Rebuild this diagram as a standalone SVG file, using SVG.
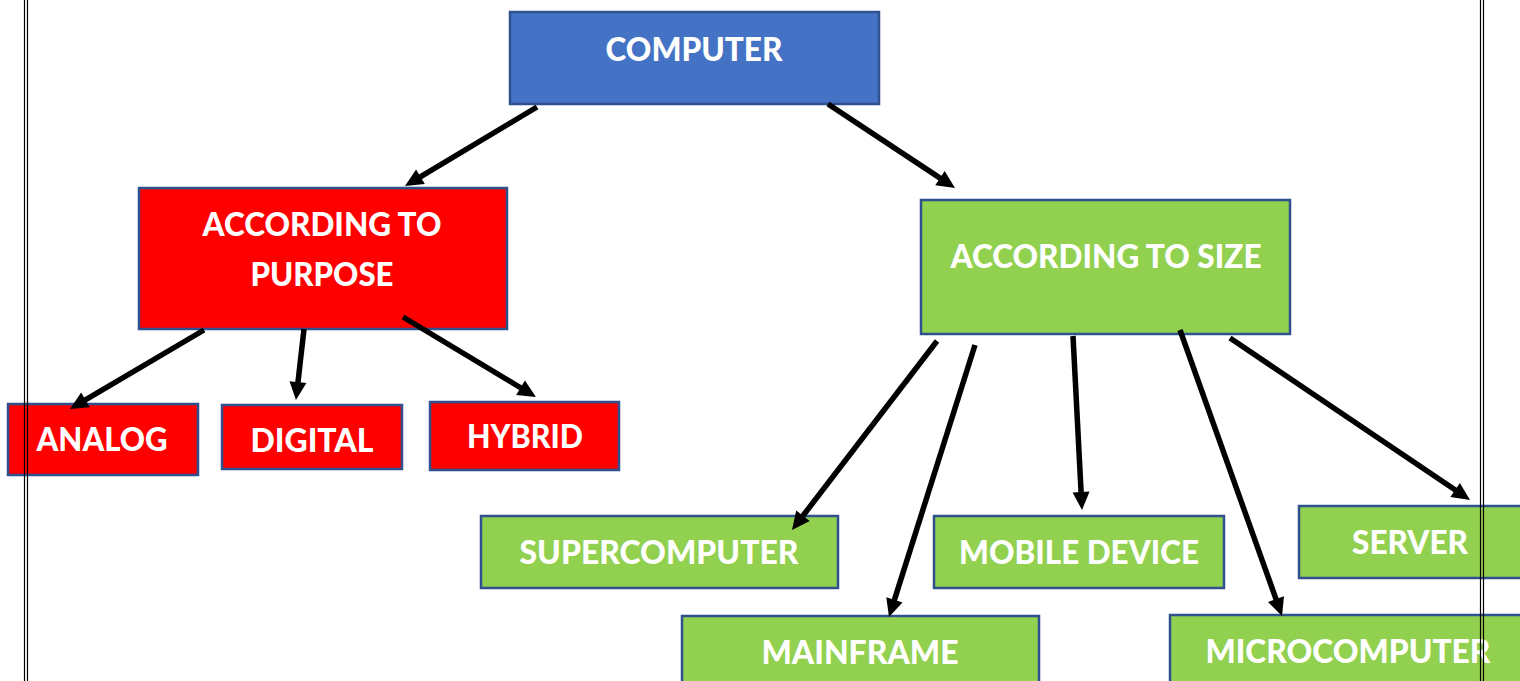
<svg xmlns="http://www.w3.org/2000/svg" width="1520" height="681" viewBox="0 0 1520 681">
<style>
.box{stroke:#2F528F;stroke-width:2.5}
.blue{fill:#4472C4}
.red{fill:#FF0000}
.green{fill:#92D050}
.t{font-family:Lato,"Liberation Sans",sans-serif;font-weight:900;font-size:33px;fill:#FFFFFF;text-anchor:middle}
.c{stroke:#000;stroke-width:5.5;fill:none;marker-end:url(#ah)}
.bd{stroke:#000;stroke-width:1.2}
</style>
<defs>
<marker id="ah" markerUnits="userSpaceOnUse" markerWidth="20" markerHeight="19" refX="6" refY="8.5" orient="auto" overflow="visible">
<path d="M0,0 L18,8.5 L0,17 Z" fill="#000"/>
</marker>
</defs>
<rect width="1520" height="681" fill="#FFFFFF"/>
<g id="computer"><rect class="box blue" x="510" y="12" width="369" height="92"/><text class="t" x="694" y="61" textLength="177" lengthAdjust="spacingAndGlyphs">COMPUTER</text></g>
<g id="purpose"><rect class="box red" x="139" y="188" width="368" height="141"/><text class="t" x="322" y="236" textLength="239" lengthAdjust="spacingAndGlyphs">ACCORDING TO</text><text class="t" x="322" y="286" textLength="143" lengthAdjust="spacingAndGlyphs">PURPOSE</text></g>
<g id="analog"><rect class="box red" x="8" y="404" width="190" height="71"/><text class="t" x="102" y="451" textLength="131" lengthAdjust="spacingAndGlyphs">ANALOG</text></g>
<g id="digital"><rect class="box red" x="222" y="405" width="180" height="64"/><text class="t" x="312" y="452" textLength="123" lengthAdjust="spacingAndGlyphs">DIGITAL</text></g>
<g id="hybrid"><rect class="box red" x="430" y="402" width="189" height="68"/><text class="t" x="525" y="448" textLength="116" lengthAdjust="spacingAndGlyphs">HYBRID</text></g>
<g id="size"><rect class="box green" x="921" y="200" width="369" height="134"/><text class="t" x="1106" y="268" textLength="311" lengthAdjust="spacingAndGlyphs">ACCORDING TO SIZE</text></g>
<g id="supercomputer"><rect class="box green" x="481" y="516" width="357" height="72"/><text class="t" x="659" y="564" textLength="279" lengthAdjust="spacingAndGlyphs">SUPERCOMPUTER</text></g>
<g id="mobile"><rect class="box green" x="934" y="516" width="290" height="72"/><text class="t" x="1079" y="564" textLength="240" lengthAdjust="spacingAndGlyphs">MOBILE DEVICE</text></g>
<g id="server"><rect class="box green" x="1299" y="506" width="240" height="72"/><text class="t" x="1410" y="554" textLength="116" lengthAdjust="spacingAndGlyphs">SERVER</text></g>
<g id="mainframe"><rect class="box green" x="682" y="616" width="357" height="80"/><text class="t" x="860" y="664" textLength="197" lengthAdjust="spacingAndGlyphs">MAINFRAME</text></g>
<g id="microcomputer"><rect class="box green" x="1170" y="615" width="370" height="80"/><text class="t" x="1348" y="663" textLength="285" lengthAdjust="spacingAndGlyphs">MICROCOMPUTER</text></g>
<g id="connectors">
<line class="c" x1="537" y1="107" x2="415.3" y2="179.8"/>
<line class="c" x1="828" y1="104" x2="945" y2="181.4"/>
<line class="c" x1="204" y1="330" x2="80.3" y2="402.9"/>
<line class="c" x1="304" y1="329" x2="297.3" y2="388.1"/>
<line class="c" x1="403" y1="317" x2="525.7" y2="390.8"/>
<line class="c" x1="937" y1="341" x2="799.3" y2="520.5"/>
<line class="c" x1="975" y1="345" x2="892.6" y2="605.6"/>
<line class="c" x1="1073" y1="336" x2="1081.4" y2="498"/>
<line class="c" x1="1180" y1="330" x2="1278" y2="604.7"/>
<line class="c" x1="1230" y1="338" x2="1460.1" y2="493.3"/>
</g>
<g id="page-border">
<line class="bd" x1="24.5" y1="0" x2="24.5" y2="681"/>
<line class="bd" x1="27.5" y1="0" x2="27.5" y2="681"/>
<line class="bd" x1="1480.5" y1="0" x2="1480.5" y2="681"/>
<line class="bd" x1="1483.5" y1="0" x2="1483.5" y2="681"/>
</g>
</svg>
